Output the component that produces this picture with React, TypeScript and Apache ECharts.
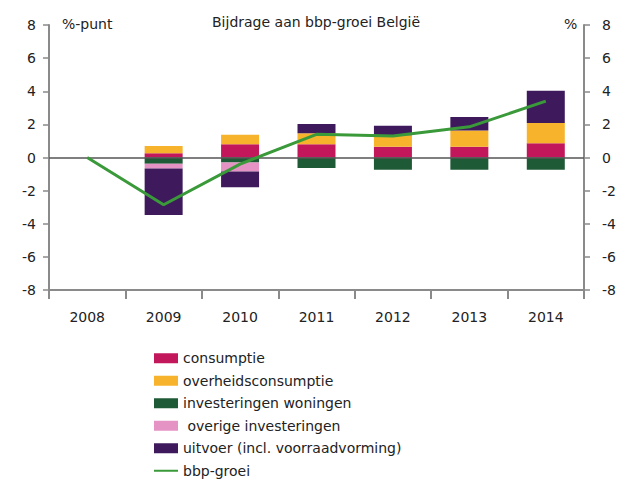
import React, { useEffect, useRef } from "react";
import * as echarts from "echarts";

const categories = ["2008", "2009", "2010", "2011", "2012", "2013", "2014"];
const consumptie = [null, 0.25, 0.8, 0.8, 0.65, 0.65, 0.86];
const overheidsconsumptie = [null, 0.45, 0.57, 0.67, 0.7, 0.98, 1.23];
const investeringenWoningen = [null, -0.37, -0.3, -0.63, -0.74, -0.74, -0.74];
const overigeInvesteringen = [null, -0.3, -0.55, 0, 0, 0, 0];
const uitvoer = [null, -2.8, -0.95, 0.55, 0.57, 0.82, 1.94];
const bbpGroei = [0, -2.85, -0.4, 1.4, 1.3, 1.85, 3.4];
const yTicks = { min: -8, max: 8, interval: 2 };

const FONT = "DejaVu Sans, sans-serif";

export default function App() {
  const ref = useRef<HTMLDivElement>(null);
  useEffect(() => {
    if (!ref.current) return;
    const chart = echarts.init(ref.current, null, { renderer: "svg" });
    const barSeries = (name: string, data: any[], color: string) => ({
      name,
      type: "bar",
      stack: "total",
      data,
      barWidth: 38,
      itemStyle: { color },
      yAxisIndex: 0,
    });
    const axisLine = { show: true, lineStyle: { color: "#8a8a8a", width: 2 } };
    chart.setOption({
      animation: false,
      textStyle: { fontFamily: FONT },
      title: {
        text: "Bijdrage aan bbp-groei België",
        left: 207,
        top: 10,
        textStyle: { fontSize: 14, fontWeight: "normal", color: "#222", fontFamily: FONT },
      },
      graphic: [
        { type: "text", left: 62, top: 17, style: { text: "%-punt", fontSize: 14, fill: "#222", fontFamily: FONT } },
        { type: "text", left: 564, top: 17, style: { text: "%", fontSize: 14, fill: "#222", fontFamily: FONT } },
      ],
      legend: {
        orient: "vertical",
        left: 148,
        top: 346,
        height: 140,
        itemWidth: 24,
        itemHeight: 10,
        itemGap: 8,
        textStyle: { fontSize: 14, color: "#222", fontFamily: FONT, lineHeight: 14.5 },
        data: [
          { name: "consumptie", icon: "rect" },
          { name: "overheidsconsumptie", icon: "rect" },
          { name: "investeringen woningen", icon: "rect" },
          { name: " overige investeringen", icon: "rect" },
          { name: "uitvoer (incl. voorraadvorming)", icon: "rect" },
          { name: "bbp-groei", itemStyle: { opacity: 0 } },
        ],
      },
      grid: { left: 49, right: 38, top: 25, bottom: 190 },
      xAxis: {
        type: "category",
        data: categories,
        position: "bottom",
        axisLine: { ...axisLine, onZero: false },
        axisTick: { show: true, alignWithLabel: false, length: 9, lineStyle: { color: "#8a8a8a", width: 2 } },
        axisLabel: { fontSize: 14, color: "#222", margin: 20, fontFamily: FONT },
      },
      yAxis: [
        {
          type: "value",
          ...yTicks,
          position: "left",
          axisLine,
          axisTick: { show: true, length: 6, lineStyle: { color: "#8a8a8a", width: 1.5 } },
          axisLabel: { fontSize: 14, color: "#222", margin: 13, fontFamily: FONT },
          splitLine: { show: false },
        },
        {
          type: "value",
          ...yTicks,
          position: "right",
          axisLine,
          axisTick: { show: true, length: 6, lineStyle: { color: "#8a8a8a", width: 1.5 } },
          axisLabel: { fontSize: 14, color: "#222", margin: 18, fontFamily: FONT },
          splitLine: { show: false },
        },
      ],
      series: [
        {
          ...barSeries("consumptie", consumptie, "#C2185B"),
          markLine: {
            silent: true,
            symbol: "none",
            label: { show: false },
            lineStyle: { color: "#555", width: 1.5, type: "solid" },
            data: [{ yAxis: 0 }],
          },
        },
        barSeries("overheidsconsumptie", overheidsconsumptie, "#F7B32B"),
        barSeries("investeringen woningen", investeringenWoningen, "#1F5A36"),
        barSeries(" overige investeringen", overigeInvesteringen, "#E592C4"),
        barSeries("uitvoer (incl. voorraadvorming)", uitvoer, "#3E1A5C"),
        {
          name: "bbp-groei",
          type: "line",
          yAxisIndex: 1,
          data: bbpGroei,
          symbol: "none",
          lineStyle: { color: "#3A9A3A", width: 3 },
          itemStyle: { color: "#3A9A3A" },
          z: 5,
        },
      ],
    });
    return () => chart.dispose();
  }, []);
  return <div ref={ref} style={{ width: 622, height: 480, position: "absolute", left: 0, top: 0 }} />;
}
